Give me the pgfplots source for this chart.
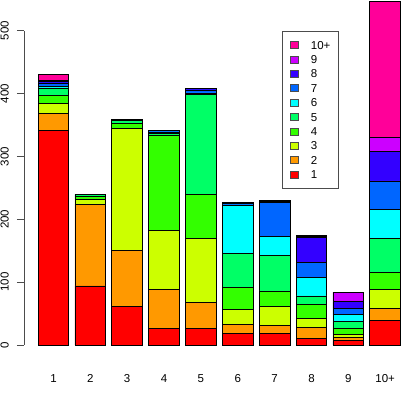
\documentclass[border=0pt]{standalone}
\usepackage{fontspec}
\setmainfont{Liberation Sans}
\usepackage{pgfplots}
\usepackage{pgfplotstable}
\pgfplotsset{compat=1.18}
\definecolor{c1}{HTML}{FF0000}
\definecolor{c2}{HTML}{FF9900}
\definecolor{c3}{HTML}{CCFF00}
\definecolor{c4}{HTML}{33FF00}
\definecolor{c5}{HTML}{00FF66}
\definecolor{c6}{HTML}{00FFFF}
\definecolor{c7}{HTML}{0066FF}
\definecolor{c8}{HTML}{3300FF}
\definecolor{c9}{HTML}{CC00FF}
\definecolor{c10}{HTML}{FF0099}
\pgfplotstableread{
x  s1  s2  s3  s4  s5  s6  s7  s8  s9  s10
0  341 28  15  13  12  3   5   3   1   9
1  94  130 8   4   3   1   0   0   0   0
2  62  89  194 7   5   1   1   0   0   0
3  27  61  94  151 3   3   2   0   0   0
4  27  41  101 71  159 2   5   2   0   0
5  19  14  23  36  54  77  2   2   0   0
6  18  13  31  24  56  31  54  2   1   0
7  10  18  14  22  14  29  25  39  2   2
8  7   5   5   10  10  11  10  11  15  0
9  39  19  30  27  54  47  45  47  22  217
}\data
\begin{document}
\begin{tikzpicture}
\begin{axis}[name=ax, scale only axis, width=377pt, height=345pt,
  xmin=-0.8, xmax=9.43, ymin=0, ymax=549, clip=false,
  ybar stacked, bar width=0.833,
  axis lines=left, axis line style={draw=none},
  xtick=data, xticklabels={1,2,3,4,5,6,7,8,9,10+},
  x tick style={draw=none},
  xticklabel style={anchor=base, inner sep=0pt}, xticklabel shift=31pt,
  ytick={0,100,...,500}, y tick style={black!70, line width=0.8pt},
  tick align=outside, major tick length=7pt,
  yticklabel style={anchor=south, rotate=90, inner sep=0pt}, yticklabel shift=8pt,
  /pgf/number format/assume math mode=true,
  tick label style={font=\fontsize{11.5}{13.8}\selectfont},
  every axis plot/.append style={draw=black, line width=0.7pt},
  legend style={at={(0.684,0.910)}, anchor=north west, draw=black!70, line width=0.8pt, fill=white,
    font=\fontsize{11.5}{13.8}\selectfont, inner xsep=8pt, inner ysep=9.5pt,
    row sep=6.2pt, column sep=12pt,
    nodes={inner sep=0pt, text height=8.2pt, text depth=0pt}},
  legend cell align=left, reverse legend,
  legend image code/.code={\draw[#1, draw=black!70, line width=0.6pt] (0pt,-3.5pt) rectangle (8pt,3.5pt);},
]
\addplot[fill=c1] table[x=x,y=s1]{\data};
\addplot[fill=c2] table[x=x,y=s2]{\data};
\addplot[fill=c3] table[x=x,y=s3]{\data};
\addplot[fill=c4] table[x=x,y=s4]{\data};
\addplot[fill=c5] table[x=x,y=s5]{\data};
\addplot[fill=c6] table[x=x,y=s6]{\data};
\addplot[fill=c7] table[x=x,y=s7]{\data};
\addplot[fill=c8] table[x=x,y=s8]{\data};
\addplot[fill=c9] table[x=x,y=s9]{\data};
\addplot[fill=c10] table[x=x,y=s10]{\data};
\legend{1,2,3,4,5,6,7,8,9,10+}
\draw[black!70, line width=0.8pt] (axis cs:-0.8,0) -- (axis cs:-0.8,500);
\end{axis}
\pgfresetboundingbox
\useasboundingbox ([xshift=-24pt,yshift=-51pt]ax.south west) rectangle (ax.north east);
\end{tikzpicture}
\end{document}
